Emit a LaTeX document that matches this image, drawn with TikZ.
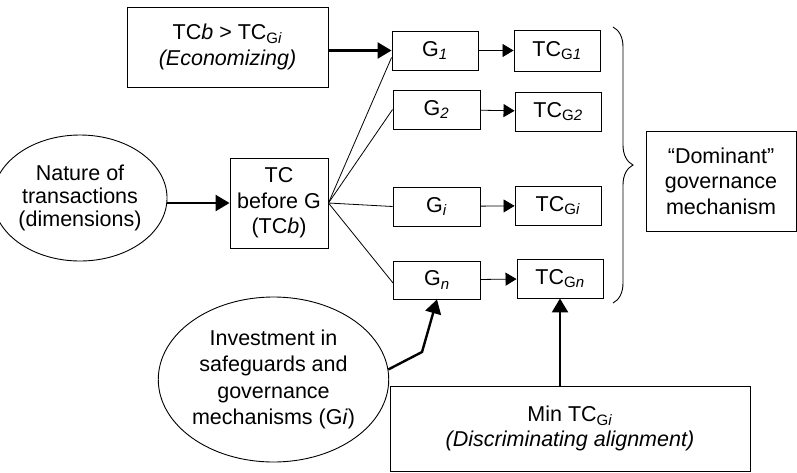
\documentclass[tikz,border=0pt]{standalone}
\usepackage{fontspec}
\setmainfont{Liberation Sans}
\usetikzlibrary{arrows.meta,shapes.geometric,decorations.pathreplacing,calc}
\newcommand\lblfont{\fontsize{21.5}{25.5}\selectfont}
\newcommand\tightfont{\fontsize{21.5}{23}\selectfont}
\newcommand\loosefont{\fontsize{21.5}{26.5}\selectfont}
\begin{document}
\begin{tikzpicture}[x=1pt,y=-1pt,
  every node/.style={font=\lblfont, align=center, inner sep=0pt},
  box/.style={draw, line width=0.9pt, rectangle},
  oval/.style={draw, line width=0.9pt, ellipse},
  thin/.style={line width=0.8pt},
  thinarrow/.style={line width=0.8pt, -{Triangle[length=11pt,width=13pt]}},
  thickarrow/.style={line width=2.4pt, -{Triangle[length=14pt,width=16pt]}}]
\useasboundingbox (0,0) rectangle (797,472);

% boxes and ovals
\node[box, minimum width=201pt, minimum height=80pt] (econ) at (227.5,47)
  {TC\textit{b} > TC\textsubscript{G\textit{i}}\\\textit{(Economizing)}};
\node[box, minimum width=98pt, minimum height=90pt] (tcb) at (279,203)
  {TC\\before G\\(TC\textit{b})};
\node[oval, minimum width=152pt, minimum height=126pt, font=\tightfont] (nature) at (80,198)
  {Nature of\\transactions\\(dimensions)};
\node[oval, minimum width=197pt, minimum height=165pt, font=\loosefont] (invest) at (273.5,379.5)
  {Investment in\\safeguards and\\governance\\mechanisms (G\textit{i})};

\node[box, minimum width=86pt, minimum height=39pt] (g1) at (435,50.5) {G\textsubscript{\textit{1}}};
\node[box, minimum width=87pt, minimum height=39pt] (g2) at (436.5,109.5) {G\textsubscript{\textit{2}}};
\node[box, minimum width=87pt, minimum height=39pt] (gi) at (436.5,206.5) {G\textsubscript{\textit{i}}};
\node[box, minimum width=87pt, minimum height=38pt] (gn) at (437,280) {G\textsubscript{\textit{n}}};

\node[box, minimum width=86pt, minimum height=41pt] (tc1) at (557,50.5) {TC\textsubscript{G\textit{1}}};
\node[box, minimum width=86pt, minimum height=39pt] (tc2) at (558,111.5) {TC\textsubscript{G\textit{2}}};
\node[box, minimum width=86pt, minimum height=39pt] (tci) at (558,205.5) {TC\textsubscript{G\textit{i}}};
\node[box, minimum width=86pt, minimum height=39pt] (tcn) at (560,278.5) {TC\textsubscript{G\textit{n}}};

\node[box, minimum width=150pt, minimum height=100pt] (dom) at (721,181)
  {“Dominant”\\governance\\mechanism};
\node[box, minimum width=360pt, minimum height=85pt] (minb) at (570,428.5)
  {Min TC\textsubscript{G\textit{i}}\\\textit{(Discriminating alignment)}};

% connectors
\draw[thickarrow] (econ.east |- g1.west) -- (g1.west);
\draw[thickarrow] (nature.east |- tcb.west) -- (tcb.west);
\draw[thin] (tcb.east) -- ([yshift=-7pt]g1.west);
\draw[thin] (tcb.east) -- (g2.west);
\draw[thin] (tcb.east) -- (gi.west);
\draw[thin] (tcb.east) -- ([yshift=-3pt]gn.west);

\draw[thinarrow] (g1) -- (tc1);
\draw[thinarrow] (g2) -- (tc2);
\draw[thinarrow] (gi) -- (tci);
\draw[thinarrow] (gn) -- (tcn);

\coordinate (kink) at (422,352);
\draw[thickarrow] (invest.5) -- (kink) -- (gn.south);
\draw[thickarrow] (minb.north -| tcn.south) -- (tcn.south);

% brace grouping the governance alternatives
\coordinate (btop) at (613,27);
\coordinate (bbot) at (613,303);
\draw[line width=0.9pt, decorate, decoration={brace, amplitude=20pt, aspect=0.5}] (btop) -- (bbot);
\end{tikzpicture}
\end{document}
